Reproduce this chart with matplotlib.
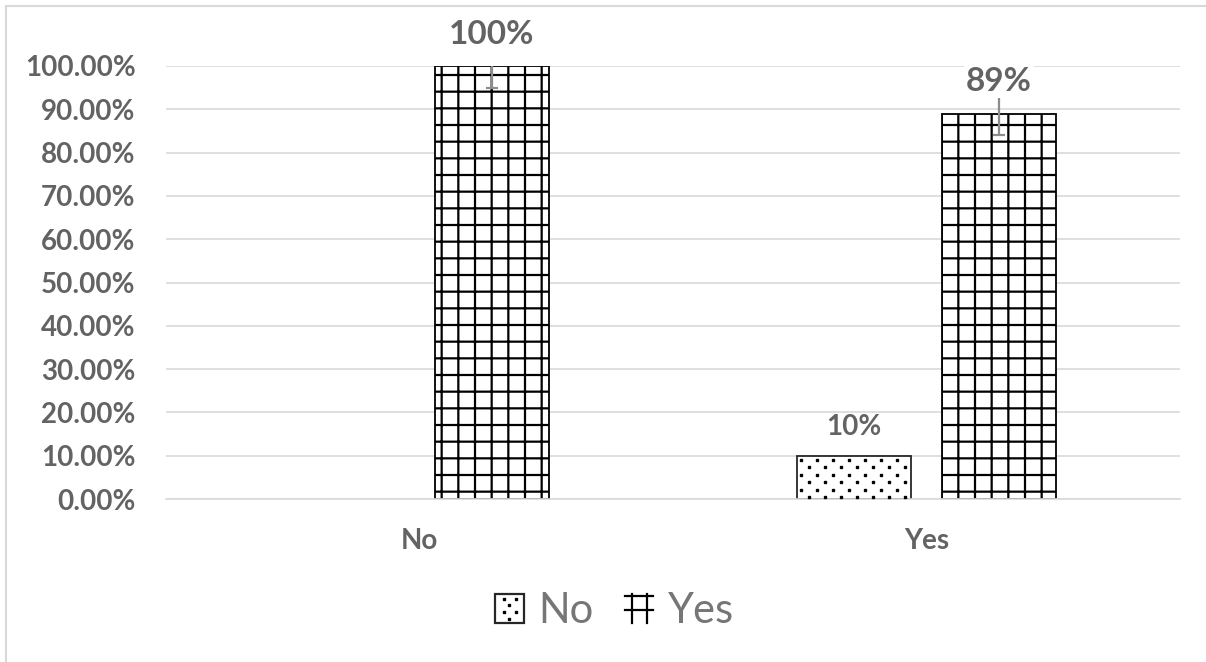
import numpy as np
import matplotlib
matplotlib.use("Agg")
import matplotlib.pyplot as plt
from matplotlib.patches import Rectangle
from matplotlib.lines import Line2D
from matplotlib.transforms import IdentityTransform
from matplotlib.legend_handler import HandlerBase

# ---- data ----
categories = ["No", "Yes"]
series_names = ["No", "Yes"]
no_values = [0.0, 0.10]
yes_values = [1.00, 0.89]
yes_errors = [0.05, 0.05]
no_labels = ["", "10%"]
yes_labels = ["100%", "89%"]
y_ticks = [i / 10 for i in range(11)]
y_tick_labels = [f"{t * 100:.2f}%" for t in y_ticks]

W, H = 1206, 662
DPI = 100
plt.rcParams["font.family"] = ["Lato", "DejaVu Sans"]
plt.rcParams["hatch.linewidth"] = 1.6

TXT = "#636363"
GRID = "#d9d9d9"

fig = plt.figure(figsize=(W / DPI, H / DPI), dpi=DPI)
fig.patch.set_facecolor("white")

# outer chart border (top and left visible)
fig.add_artist(Rectangle((6 / W, -0.05), 1.2, 1.05 - 6 / H,
                         transform=fig.transFigure, fill=False,
                         edgecolor=GRID, linewidth=1.5))

ax_left, ax_right = 166 / W, 1180 / W
ax_bottom, ax_top = 1 - 499 / H, 1 - 66 / H
ax = fig.add_axes([ax_left, ax_bottom, ax_right - ax_left, ax_top - ax_bottom])
ax.set_xlim(-0.5, 1.5)
ax.set_ylim(0, 1.0)

x = np.arange(len(categories))
bw = 0.225
gap = 0.061
off = (bw + gap) / 2

ax.set_yticks(y_ticks)
ax.set_yticklabels(y_tick_labels)
ax.set_xticks(x)
ax.set_xticklabels(categories)
ax.tick_params(axis="both", length=0, colors=TXT, labelsize=20)
ax.tick_params(axis="y", pad=22)
ax.tick_params(axis="x", pad=21)
for lab in ax.get_xticklabels() + ax.get_yticklabels():
    lab.set_fontweight("bold")
ax.grid(axis="y", color=GRID, linewidth=1.2)
ax.set_axisbelow(True)
for s in ["top", "right", "left"]:
    ax.spines[s].set_visible(False)
ax.spines["bottom"].set_color(GRID)
ax.spines["bottom"].set_linewidth(1.2)

# "No" series: white bars with a staggered dot texture
bars_no = ax.bar(x - off, no_values, bw, facecolor="white",
                 edgecolor="#262626", linewidth=1.3, zorder=2)
for rect in bars_no:
    if rect.get_height() <= 0:
        rect.set_visible(False)
        continue
    (x0, y0), (x1, y1) = ax.transData.transform(
        [[rect.get_x(), 0], [rect.get_x() + rect.get_width(), rect.get_height()]])
    xs, ys = [], []
    for i, yy in enumerate(np.arange(y1 - 4, y0, -7.5)):
        shift = 0 if i % 2 == 0 else 8
        for xx in np.arange(x0 + 4.5 + shift, x1 - 2, 16):
            xs.append(xx)
            ys.append(yy)
    dots = Line2D(xs, ys, linestyle="none", marker="s", markersize=1.5,
                  color="black", transform=IdentityTransform(), zorder=3)
    dots.set_clip_path(rect)
    ax.add_artist(dots)

# "Yes" series: grid hatched bars
bars_yes = ax.bar(x + off, yes_values, bw, facecolor="white",
                  edgecolor="black", hatch="+", linewidth=1.3, zorder=2)

# error bars on the "Yes" series
ax.errorbar(x + off, yes_values, yerr=yes_errors, fmt="none",
            ecolor="#8c8c8c", elinewidth=1.6, capsize=4.5, capthick=1.6,
            zorder=4)

# data labels
for xi, v, t in zip(x - off, no_values, no_labels):
    if t:
        ax.annotate(t, (xi, v), xytext=(0, 21), textcoords="offset points",
                    ha="center", va="center", fontsize=20, fontweight="bold",
                    color=TXT, zorder=6)
for xi, v, t in zip(x + off, yes_values, yes_labels):
    ax.annotate(t, (xi, v), xytext=(0, 23), textcoords="offset points",
                ha="center", va="center", fontsize=24, fontweight="bold",
                color=TXT, zorder=6, annotation_clip=False,
                bbox=dict(boxstyle="square,pad=0.05", facecolor="white",
                          edgecolor="none"))


# legend handles
class DotBoxHandler(HandlerBase):
    def create_artists(self, legend, orig_handle, xdescent, ydescent,
                       width, height, fontsize, trans):
        box = Rectangle((-xdescent, -ydescent), width, height,
                        facecolor="white", edgecolor="#262626",
                        linewidth=1.6, transform=trans)
        xs, ys = [], []
        for i, fy in enumerate([0.82, 0.6, 0.38, 0.16]):
            cols = [0.3, 0.72] if i % 2 == 0 else [0.5]
            for fx in cols:
                xs.append(-xdescent + fx * width)
                ys.append(-ydescent + fy * height)
        dots = Line2D(xs, ys, linestyle="none", marker="s", markersize=1.6,
                      color="black", transform=trans)
        return [box, dots]


class GridMarkHandler(HandlerBase):
    def create_artists(self, legend, orig_handle, xdescent, ydescent,
                       width, height, fontsize, trans):
        x0, y0 = -xdescent, -ydescent
        arts = []
        for fx in [0.27, 0.8]:
            arts.append(Line2D([x0 + fx * width] * 2, [y0, y0 + height],
                               color="black", linewidth=1.6, transform=trans))
        for fy in [0.92, 0.45]:
            arts.append(Line2D([x0, x0 + width], [y0 + fy * height] * 2,
                               color="black", linewidth=1.6, transform=trans))
        return arts


h_no = Rectangle((0, 0), 1, 1)
h_yes = Rectangle((0, 0), 1, 1)
leg = fig.legend([h_no, h_yes], series_names, loc="center",
                 bbox_to_anchor=(614.5 / W, 1 - 611 / H), ncol=2,
                 frameon=False, fontsize=30, handlelength=0.68,
                 handleheight=0.72, handletextpad=0.35, columnspacing=0.75,
                 handler_map={h_no: DotBoxHandler(), h_yes: GridMarkHandler()})
for t in leg.get_texts():
    t.set_color("#767676")

fig.savefig("out.png", dpi=DPI, facecolor="white")
